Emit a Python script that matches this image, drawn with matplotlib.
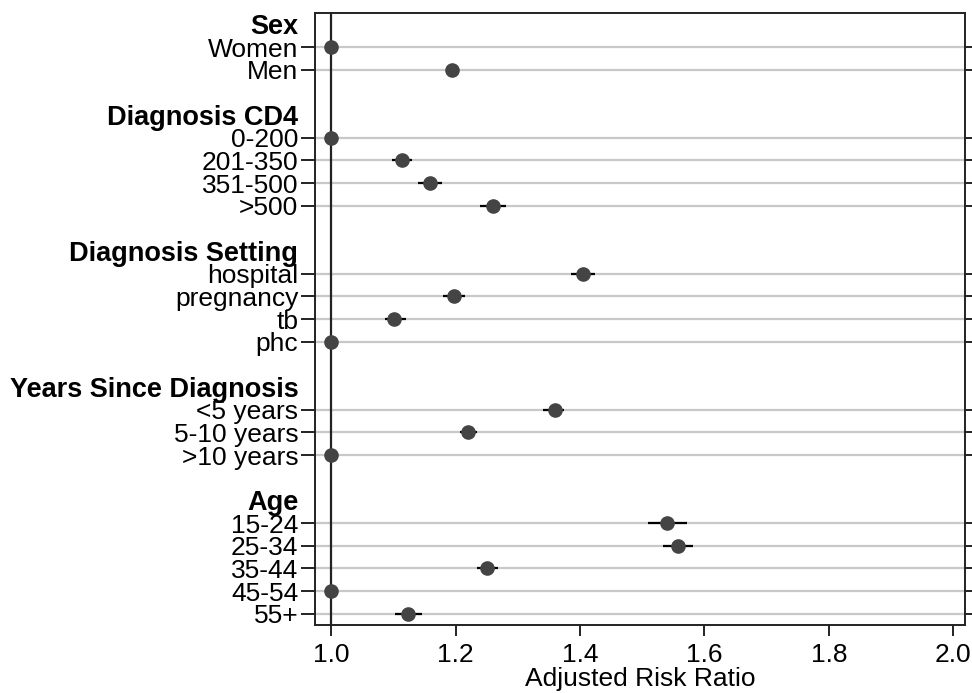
import matplotlib.pyplot as plt
import numpy as np

plt.rcParams['font.family'] = ['Liberation Sans', 'DejaVu Sans']

# data (reference groups sit at 1.0 with no CI)
sections = ['Sex', 'Diagnosis CD4', 'Diagnosis Setting', 'Years Since Diagnosis', 'Age']
categories = [['Women', 'Men'],
              ['0-200', '201-350', '351-500', '>500'],
              ['hospital', 'pregnancy', 'tb', 'phc'],
              ['<5 years', '5-10 years', '>10 years'],
              ['15-24', '25-34', '35-44', '45-54', '55+']]
rr = [[1.0, 1.195],
      [1.0, 1.114, 1.159, 1.260],
      [1.405, 1.198, 1.101, 1.0],
      [1.359, 1.220, 1.0],
      [1.540, 1.558, 1.251, 1.0, 1.124]]
lower = [[1.0, 1.187],
         [1.0, 1.098, 1.140, 1.240],
         [1.386, 1.180, 1.087, 1.0],
         [1.341, 1.207, 1.0],
         [1.510, 1.534, 1.235, 1.0, 1.103]]
upper = [[1.0, 1.205],
         [1.0, 1.130, 1.178, 1.281],
         [1.424, 1.215, 1.121, 1.0],
         [1.375, 1.235, 1.0],
         [1.572, 1.581, 1.268, 1.0, 1.146]]

# build row positions: header row, category rows, blank row between sections
tick_pos, tick_lab, header_flag = [], [], []
pt_y, pt_x, pt_lo, pt_hi = [], [], [], []
row = 0
for s, cats, r, lo, hi in zip(sections, categories, rr, lower, upper):
    tick_pos.append(row); tick_lab.append(s); header_flag.append(True)
    row += 1
    for c, v, l, h in zip(cats, r, lo, hi):
        tick_pos.append(row); tick_lab.append(c); header_flag.append(False)
        pt_y.append(row); pt_x.append(v); pt_lo.append(l); pt_hi.append(h)
        row += 1
    row += 1
last_row = row - 2

fig = plt.figure(figsize=(9.72, 6.93), dpi=100)
ax = fig.add_axes([0.324, 0.098, 0.669, 0.883])

ax.axvline(1.0, color='#222222', lw=1.6, zorder=2)
pt_x = np.array(pt_x)
xerr = np.array([pt_x - np.array(pt_lo), np.array(pt_hi) - pt_x])
ax.errorbar(pt_x, pt_y, xerr=xerr, fmt='o', color='#444444', ecolor='black',
            elinewidth=1.6, capsize=0, markersize=9.5, zorder=4)

ax.set_xlim(0.974, 2.019)
ax.set_ylim(last_row + 0.5, -0.5)
ax.set_xticks([1.0, 1.2, 1.4, 1.6, 1.8, 2.0])
ax.set_xticklabels(['1.0', '1.2', '1.4', '1.6', '1.8', '2.0'])
ax.set_yticks(tick_pos)
ax.set_yticklabels(tick_lab)
ax.set_xlabel('Adjusted Risk Ratio', fontsize=19, labelpad=0)

ax.tick_params(axis='x', labelsize=19, length=8, width=1.4, pad=5, color='#222222')
ax.tick_params(axis='y', labelsize=19, length=10, width=1.4, pad=2, right=True,
               color='#222222')
ax.grid(axis='y', color='#c8c8c8', lw=1.6, zorder=0)
ax.set_axisbelow(True)

for t, lab, hd in zip(ax.yaxis.get_major_ticks(), ax.get_yticklabels(), header_flag):
    if hd:
        t.tick1line.set_visible(False)
        t.tick2line.set_visible(False)
        t.gridline.set_visible(False)
        lab.set_fontweight('bold')
        lab.set_fontsize(19.5)

for sp in ax.spines.values():
    sp.set_linewidth(1.4)
    sp.set_color('#222222')

plt.savefig('out.png', dpi=100)
